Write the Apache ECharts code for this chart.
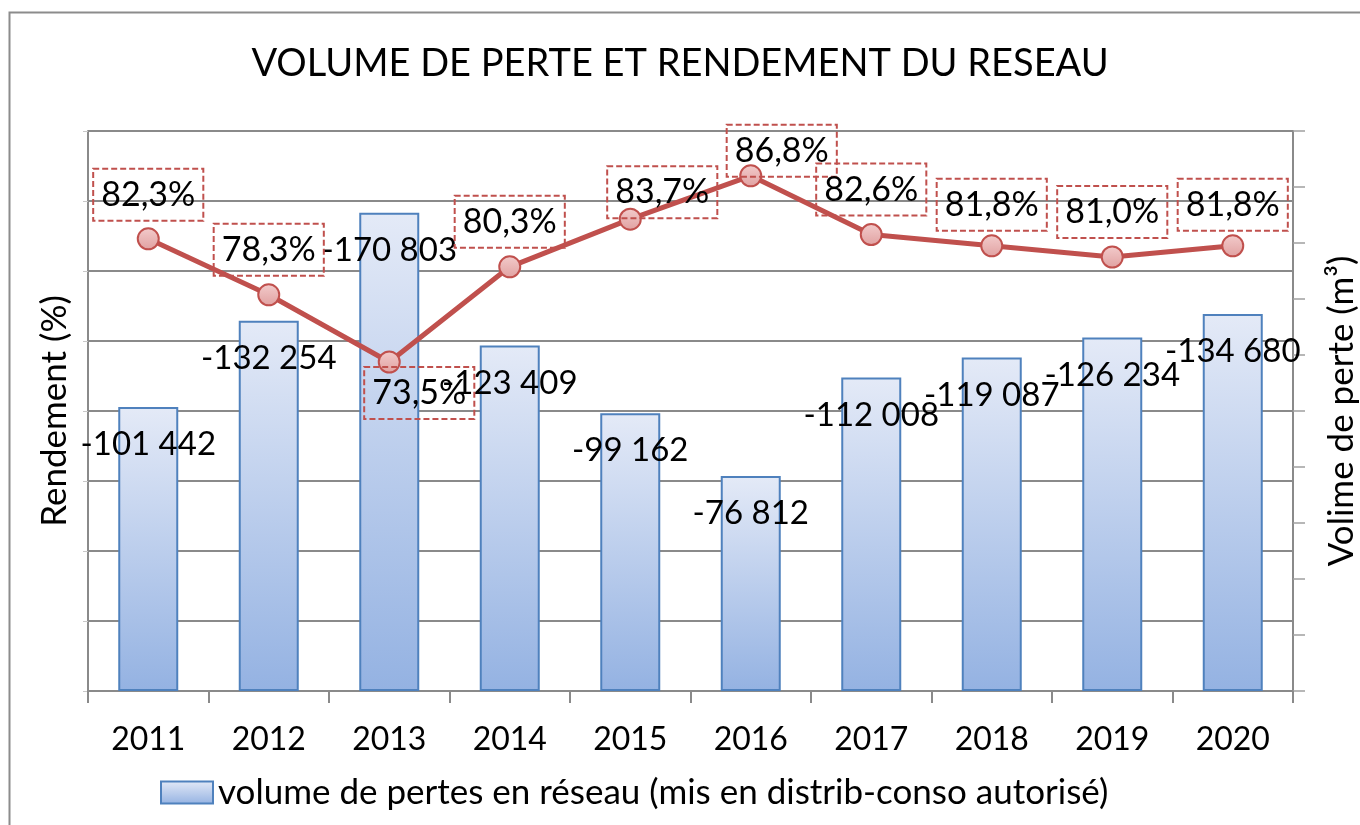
<!DOCTYPE html>
<html>
<head>
<meta charset="utf-8">
<script src="https://cdn.jsdelivr.net/npm/echarts@6/dist/echarts.min.js"></script>
<style>
  html, body { margin: 0; padding: 0; background: #fff; }
  #chart { width: 1360px; height: 825px; }
</style>
</head>
<body>
<div id="chart"></div>
<script>
  // data
  const years = ['2011', '2012', '2013', '2014', '2015', '2016', '2017', '2018', '2019', '2020'];
  const pertes = [101442, 132254, 170803, 123409, 99162, 76812, 112008, 119087, 126234, 134680];
  const rendement = [82.3, 78.3, 73.5, 80.3, 83.7, 86.8, 82.6, 81.8, 81.0, 81.8];

  // label placement around each point (style only)
  const labelOffsets = [[0, -44], [0, -45], [30, 31], [0, -45], [32, -27], [31, -25], [0, -45], [0, -41], [0, -45], [0, -41]];

  const font = 'Lato';
  const red = '#c0504d';

  function fmtVolume(v) {
    return '-' + String(v).replace(/\B(?=(\d{3})+(?!\d))/g, ' ');
  }

  const chart = echarts.init(document.getElementById('chart'));
  chart.setOption({
    textStyle: { fontFamily: font, color: '#000' },
    title: {
      text: 'VOLUME DE PERTE ET RENDEMENT DU RESEAU',
      left: 'center',
      top: 40,
      textStyle: { fontFamily: font, fontSize: 38, fontWeight: 'normal', color: '#000' }
    },
    graphic: [{
      type: 'rect',
      shape: { x: 9.5, y: 12.5, width: 1400, height: 900 },
      style: { fill: 'none', stroke: '#8c8c8c', lineWidth: 2 },
      silent: true
    }],
    legend: {
      data: ['volume de pertes en réseau (mis en distrib-conso autorisé)'],
      left: 155,
      top: 770,
      icon: 'rect',
      itemWidth: 52,
      itemHeight: 22,
      itemGap: 5,
      textStyle: { fontFamily: font, fontSize: 35, color: '#000' }
    },
    grid: { left: 88, right: 67, top: 131, bottom: 134, outerBoundsMode: 'none' },
    xAxis: {
      type: 'category',
      data: years,
      axisLine: { lineStyle: { color: '#8a8a8a', width: 2 } },
      axisTick: { show: true, length: 12, lineStyle: { color: '#8a8a8a', width: 2 } },
      axisLabel: { fontFamily: font, fontSize: 32, color: '#000', margin: 33 }
    },
    yAxis: [{
      type: 'value',
      min: 50,
      max: 90,
      interval: 5,
      name: 'Rendement (%)',
      nameLocation: 'middle',
      nameRotate: 90,
      nameGap: 16,
      nameTextStyle: { fontFamily: font, fontSize: 35, color: '#000' },
      axisLine: { show: true, lineStyle: { color: '#8a8a8a', width: 2 } },
      axisTick: { show: true, length: 5, lineStyle: { color: '#c8c8c8', width: 1 } },
      axisLabel: { show: false },
      splitLine: { lineStyle: { color: '#8a8a8a', width: 2 } }
    }, {
      type: 'value',
      min: 0,
      max: 200000,
      interval: 20000,
      name: 'Volime de perte (m³)',
      nameLocation: 'middle',
      nameRotate: 90,
      nameGap: 31,
      nameTextStyle: { fontFamily: font, fontSize: 35, color: '#000' },
      axisLine: { show: true, lineStyle: { color: '#8a8a8a', width: 2 } },
      axisTick: { show: true, length: 12, lineStyle: { color: '#a0a0a0', width: 1.5 } },
      axisLabel: { show: false },
      splitLine: { show: false }
    }],
    series: [{
      name: 'volume de pertes en réseau (mis en distrib-conso autorisé)',
      type: 'bar',
      yAxisIndex: 1,
      data: pertes,
      barWidth: 60,
      itemStyle: {
        color: new echarts.graphic.LinearGradient(0, 0, 0, 1, [
          { offset: 0, color: '#e4eaf7' },
          { offset: 1, color: '#94b2e2' }
        ]),
        borderColor: '#4f81bd',
        borderWidth: 2
      },
      label: {
        show: true,
        position: 'insideTop',
        distance: 21,
        fontFamily: font,
        fontSize: 33,
        color: '#000',
        formatter: p => fmtVolume(p.value)
      },
      z: 2
    }, {
      name: 'rendement',
      type: 'line',
      yAxisIndex: 0,
      data: rendement.map((v, i) => ({
        value: v,
        label: { offset: labelOffsets[i] }
      })),
      lineStyle: { color: red, width: 5 },
      symbol: 'circle',
      symbolSize: 21,
      itemStyle: {
        color: new echarts.graphic.LinearGradient(0, 0, 0, 1, [
          { offset: 0, color: '#f3cccc' },
          { offset: 1, color: '#e0a0a0' }
        ]),
        borderColor: red,
        borderWidth: 2
      },
      label: {
        show: true,
        position: 'inside',
        fontFamily: font,
        fontSize: 34,
        color: '#000',
        lineHeight: 38,
        padding: [7, 8],
        borderColor: red,
        borderWidth: 2,
        borderType: [6, 3],
        formatter: p => p.value.toFixed(1).replace('.', ',') + '%'
      },
      z: 3
    }]
  });
</script>
</body>
</html>
